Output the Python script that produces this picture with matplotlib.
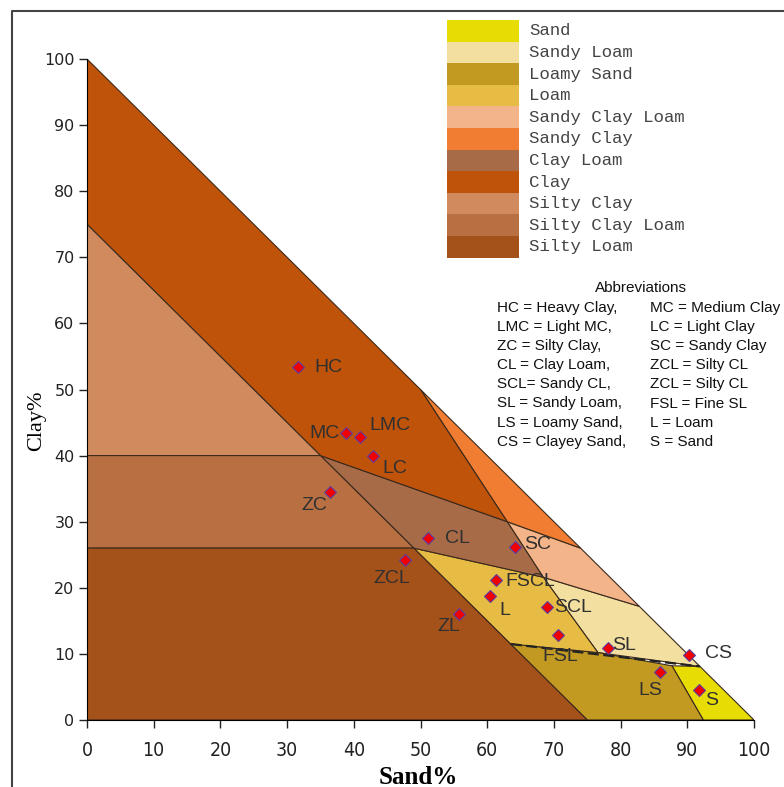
import matplotlib.pyplot as plt
from matplotlib.patches import Polygon, Rectangle
from matplotlib.lines import Line2D

# texture classes (legend order) and colours
classes = ["Sand", "Sandy Loam", "Loamy Sand", "Loam", "Sandy Clay Loam",
           "Sandy Clay", "Clay Loam", "Clay", "Silty Clay", "Silty Clay Loam",
           "Silty Loam"]
colors = ["#E8DC05", "#F3DFA0", "#C29A22", "#E6BC45", "#F4B489",
          "#F07D32", "#A86B48", "#C0530A", "#D08A5E", "#B87043", "#A5511A"]

# region outlines, (sand %, clay %)
sand_reg = [(87.7, 8.2), (91.9, 8.1), (100, 0), (92.4, 0)]
sandy_loam_reg = [(68.4, 21.6), (82.8, 17.2), (91.9, 8.1), (76.6, 10.2)]
loamy_sand_reg = [(63.5, 11.5), (76.6, 10.2), (87.7, 8.2), (92.4, 0), (75, 0)]
loam_reg = [(49, 26), (68.4, 21.6), (76.6, 10.2), (63.5, 11.5)]
sandy_clay_loam_reg = [(63, 30), (74, 26), (82.8, 17.2), (68.4, 21.6)]
sandy_clay_reg = [(50, 50), (74, 26), (63, 30)]
clay_loam_reg = [(35, 40), (63, 30), (68.4, 21.6), (49, 26)]
clay_reg = [(0, 75), (0, 100), (50, 50), (63, 30), (35, 40)]
silty_clay_reg = [(0, 40), (35, 40), (0, 75)]
silty_clay_loam_reg = [(0, 26), (49, 26), (35, 40), (0, 40)]
silty_loam_reg = [(0, 0), (75, 0), (49, 26), (0, 26)]
regions = [sand_reg, sandy_loam_reg, loamy_sand_reg, loam_reg,
           sandy_clay_loam_reg, sandy_clay_reg, clay_loam_reg, clay_reg,
           silty_clay_reg, silty_clay_loam_reg, silty_loam_reg]

# fine sandy loam boundary (dashed)
fsl_sand = [63.5, 91.9]
fsl_clay = [11.5, 8.1]

# sample points
pt_labels = ["HC", "MC", "LMC", "LC", "ZC", "CL", "SC", "ZCL", "FSCL", "L",
             "ZL", "SCL", "FSL", "SL", "CS", "LS", "S"]
pt_sand = [31.6, 38.8, 40.9, 42.9, 36.4, 51.1, 64.2, 47.7, 61.3, 60.4,
           55.8, 69.0, 70.6, 78.1, 90.3, 85.9, 91.8]
pt_clay = [53.4, 43.4, 42.8, 39.9, 34.5, 27.5, 26.2, 24.2, 21.2, 18.8,
           16.0, 17.1, 12.9, 10.9, 9.8, 7.3, 4.5]
# label placement (pixels from point, alignment)
lab_dx = [17, -6, 10, 9, -3, 17, 9, -13, 10, 10, -10, 7, 2, 4, 16, -10, 6]
lab_dy = [0, 0, 12, -12, -14, 0, 2, -18, -2, -15, -12, -1, -22, 2, 2, -19, -10]
lab_ha = ["left", "right", "left", "left", "right", "left", "left", "center",
          "left", "left", "center", "left", "center", "left", "left",
          "center", "left"]

abbrev_left = ["HC = Heavy Clay,", "LMC = Light MC,", "ZC = Silty Clay,",
               "CL = Clay Loam,", "SCL= Sandy CL,", "SL = Sandy Loam,",
               "LS = Loamy Sand,", "CS = Clayey Sand,"]
abbrev_right = ["MC = Medium Clay", "LC = Light Clay", "SC = Sandy Clay",
                "ZCL = Silty CL", "ZCL = Silty CL", "FSL = Fine SL",
                "L = Loam", "S = Sand"]

W, H = 784, 787
fig = plt.figure(figsize=(7.84, 7.87), dpi=100)
ax = fig.add_axes([87 / W, 1 - 720 / H, 667 / W, 661 / H])

for reg, col in zip(regions, colors):
    ax.add_patch(Polygon(reg, closed=True, facecolor=col,
                         edgecolor="#3b2a1c", linewidth=0.8))
ax.plot(fsl_sand, fsl_clay, color="#222222", lw=1.6, ls=(0, (5, 2)))

ax.plot(pt_sand, pt_clay, ls="none", marker="D", markersize=6.5,
        markerfacecolor="#F00000", markeredgecolor="#5A3FA0", markeredgewidth=0.8)
for s, c, t, dx, dy, ha in zip(pt_sand, pt_clay, pt_labels, lab_dx, lab_dy, lab_ha):
    ax.annotate(t, (s, c), xytext=(dx, dy), textcoords="offset pixels",
                ha=ha, va="center", fontsize=14, color="#303030",
                family="Liberation Sans")

ax.set_xlim(0, 100)
ax.set_ylim(0, 100)
ax.set_xticks(range(0, 101, 10))
ax.set_yticks(range(0, 101, 10))
for sp in ["top", "right"]:
    ax.spines[sp].set_visible(False)
ax.tick_params(axis="both", direction="out", length=6, width=1, color="#222222")
ax.tick_params(axis="x", pad=9)
ax.tick_params(axis="y", pad=3)
for lab in ax.get_xticklabels():
    lab.set_family(["DejaVu Sans"])
    lab.set_stretch("condensed")
    lab.set_fontsize(14)
    lab.set_color("#222222")
for lab in ax.get_yticklabels():
    lab.set_family("DejaVu Sans")
    lab.set_fontsize(11.5)
    lab.set_color("#222222")

fig.text(418 / W, 1 - 777 / H, "Sand%", ha="center", va="center",
         fontsize=18, fontweight="bold", family="Liberation Serif")
fig.text(37 / W, 1 - 421 / H, "Clay%", ha="center", va="center",
         rotation=90, fontsize=16, family="Liberation Serif")

# overlay in pixel coordinates for legend, notes and frame
ov = fig.add_axes([0, 0, 1, 1])
ov.set_xlim(0, W)
ov.set_ylim(H, 0)
ov.axis("off")
ov.patch.set_alpha(0)

row_h = 21.6
for i, (name, col) in enumerate(zip(classes, colors)):
    y0 = 20 + i * row_h
    ov.add_patch(Rectangle((447, y0), 72, row_h, facecolor=col, edgecolor="none"))
    ov.text(529, y0 + row_h / 2, name, ha="left", va="center", fontsize=12.5,
            family="Liberation Mono", color="#444444")

ov.text(641, 288, "Abbreviations", ha="center", va="center", fontsize=11,
        family="Liberation Sans", color="#111111")
for i, (l, r) in enumerate(zip(abbrev_left, abbrev_right)):
    y = 308 + i * 19.1
    ov.text(497, y, l, ha="left", va="center", fontsize=11,
            family="Liberation Sans", color="#111111")
    ov.text(650, y, r, ha="left", va="center", fontsize=11,
            family="Liberation Sans", color="#111111")

ov.add_line(Line2D([12, 12, W], [H, 11, 11], color="#444444", lw=1.5))

fig.savefig("out.png", dpi=100)
